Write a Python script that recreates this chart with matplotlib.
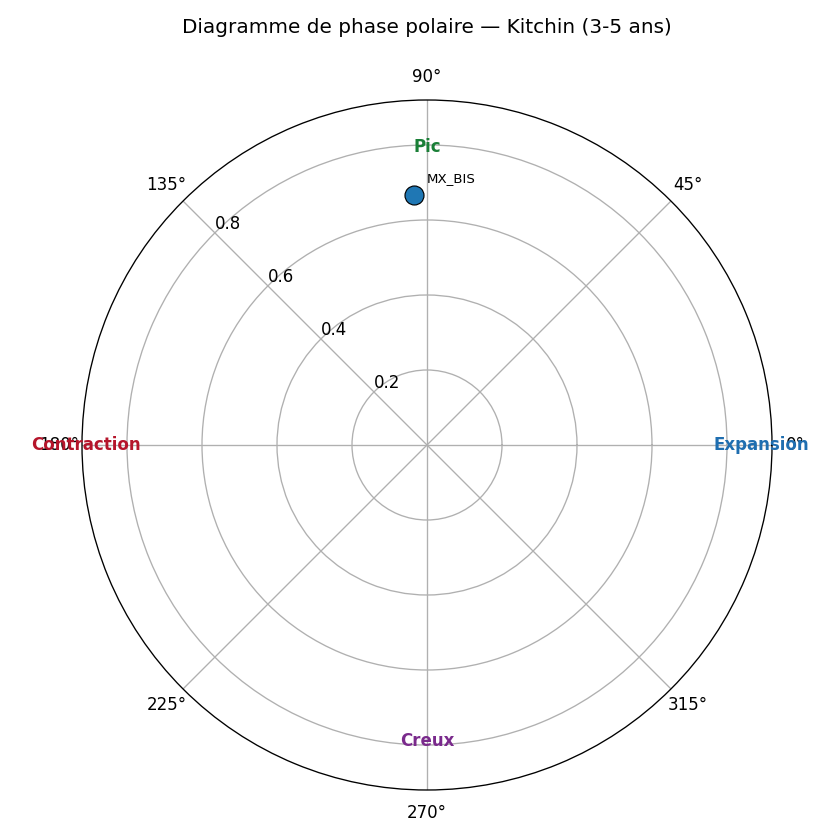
import numpy as np
import matplotlib
matplotlib.use("Agg")
import matplotlib.pyplot as plt

# Data
names = ["MX_BIS"]
phase_deg = [93.0]
amplitude = [0.667]

phase_labels = ["Expansion", "Pic", "Contraction", "Creux"]
phase_angles = [0, 90, 180, 270]
phase_colors = ["#1f6eb0", "#1a7f37", "#b5152b", "#7a2a8c"]

rticks = [0.2, 0.4, 0.6, 0.8]

fig = plt.figure(figsize=(7, 7), dpi=120)
ax = fig.add_axes([82/840, 50/840, 690/840, 690/840], projection="polar")

theta = np.deg2rad(phase_deg)
ax.scatter(theta, amplitude, s=130, color="#1f77b4", edgecolor="black", linewidth=0.7, zorder=5)
for n, t, r in zip(names, theta, amplitude):
    ax.annotate(n, (t, r), xytext=(8, 8), textcoords="offset points", fontsize=8)

label_r = {0: 0.892, 90: 0.795, 180: 0.91, 270: 0.79}
for lab, ang, col in zip(phase_labels, phase_angles, phase_colors):
    ax.text(np.deg2rad(ang), label_r[ang], lab, color=col, fontweight="bold",
            ha="center", va="center", fontsize=10)

ax.set_ylim(0, 0.92)
ax.set_yticks(rticks)
ax.set_yticklabels([f"{v:.1f}" for v in rticks])
ax.set_rlabel_position(135)
ax.grid(True, color="#b0b0b0")
ax.set_title("Diagramme de phase polaire — Kitchin (3-5 ans)", fontsize=12, pad=40)

fig.savefig("out.png", dpi=120)
